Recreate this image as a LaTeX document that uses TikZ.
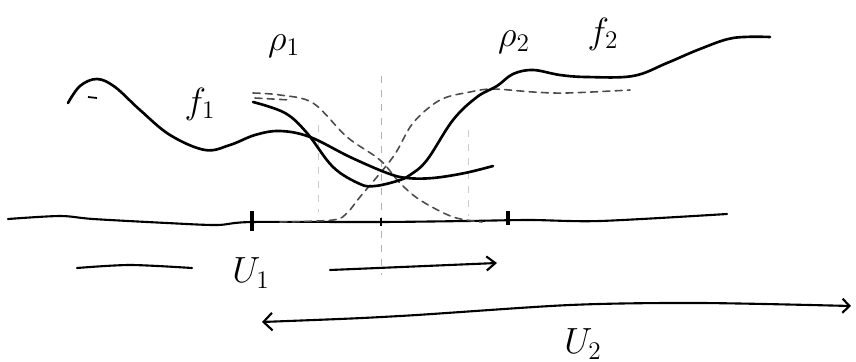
\documentclass[tikz,border=0pt]{standalone}
\usetikzlibrary{arrows.meta}
\begin{document}
\begin{tikzpicture}[x=0.02cm,y=-0.02cm,
  solidcurve/.style={line width=1.5pt,line cap=round,line join=round},
  dashcurve/.style={line width=0.9pt,gray!60!black,dash pattern=on 4pt off 3pt,line cap=round},
  guide/.style={line width=0.5pt,gray!60,dash pattern=on 4pt off 4pt},
  axisline/.style={line width=1.2pt,line cap=round},
  tick/.style={line width=2pt},
  lbl/.style={font=\fontsize{22}{24}\selectfont,inner sep=0pt},
  barb/.style={-{Straight Barb[length=5pt,width=8pt,line width=1.2pt]}}
]
\useasboundingbox (0,0) rectangle (856,362);

% guide lines
\draw[guide] (381,76) -- (381,275);
\draw[guide,gray!40] (318,125) -- (318,212);
\draw[guide,gray!40] (468,130) -- (468,216);

% axis
\draw[axisline] plot[smooth,tension=0.5] coordinates {(8,219) (60,216) (93,219) (167,223) (217,225) (252,222) (380,222) (467,221) (530,220) (600,221) (727,214)};
\draw[tick] (252,211) -- (252,231);
\draw[tick] (508,211) -- (508,225);
\draw[line width=0.8pt] (381,218) -- (381,226);

% dashed rho1
\draw[dashcurve] plot[smooth,tension=0.55] coordinates {(253,93) (280,95) (313,103) (347,137) (380,160) (400,183) (420,200) (453,217) (482,222)};
\draw[dashcurve] (255,98) -- (290,100);
% dashed rho2
\draw[dashcurve] plot[smooth,tension=0.55] coordinates {(280,222) (333,220) (347,213) (360,197) (393,157) (413,123) (440,100) (470,92) (493,89) (533,92) (567,93) (630,90)};

% f1
\draw[solidcurve] plot[smooth,tension=0.6] coordinates {(68,103) (80,86) (97,79) (115,87) (140,110) (170,135) (205,150) (230,145) (255,135) (280,131) (310,137) (350,157) (387,173) (407,178) (433,178) (465,173) (493,166)};
\draw[line width=1pt] (88,97) -- (97,98);
% rho1 f / f2 curve
\draw[solidcurve] plot[smooth,tension=0.6] coordinates {(253,102) (285,113) (307,133) (333,167) (360,184) (375,186) (397,181) (410,175) (427,160) (453,120) (477,97) (497,86) (513,74) (533,70) (560,75) (587,77) (633,76) (667,63) (700,49) (733,38) (770,37)};

% U1
\draw[axisline] plot[smooth,tension=0.5] coordinates {(77,268) (130,265) (192,268)};
\draw[axisline,barb] (330,270) -- (497,263);
\node[lbl] (u1) at (251,273) {$U_{1}$};

% U2
\draw[axisline,{Straight Barb[length=5pt,width=10pt,line width=1.2pt]}-{Straight Barb[length=4pt,width=8pt,line width=1.2pt]}] plot[smooth,tension=0.5] coordinates {(262,322) (400,316) (570,305) (700,303) (851,306)};
\node[lbl] (u2) at (583,344) {$U_{2}$};

% labels
\node[lbl] (r1) at (284,46) {$\rho_{1}$};
\node[lbl] (r2) at (514,42) {$\rho_{2}$};
\node[lbl] (f2) at (603,34) {$f_{2}$};
\node[lbl] (f1) at (200,104) {$f_{1}$};
\end{tikzpicture}
\end{document}
